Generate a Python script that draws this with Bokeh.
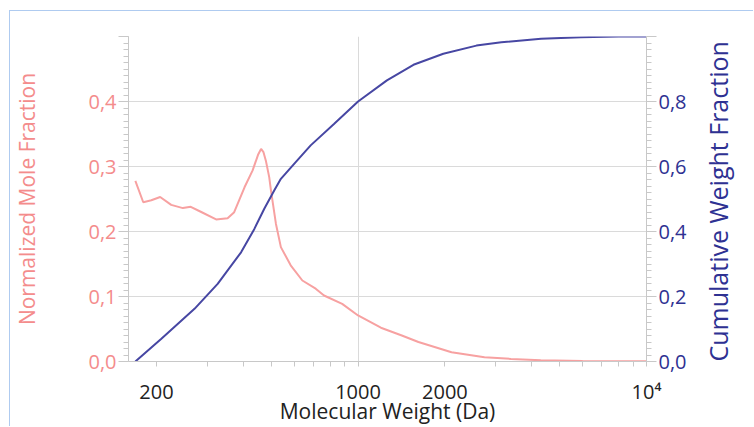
import math
import json
from bokeh.plotting import figure
from bokeh.models import Range1d, LinearAxis, FixedTicker, CustomJSTickFormatter
from bokeh.embed import file_html
from bokeh.resources import INLINE

# Normalized mole fraction (left axis)
mw_mole = [169, 180, 192, 206, 225, 247, 263, 286, 322, 353, 372, 404, 431, 450,
           461, 470, 479, 492, 499, 519, 540, 584, 641, 713, 762, 881, 1000, 1200,
           1418, 1619, 2109, 2743, 3390, 4300, 6000, 8000, 10000]
mole_frac = [0.278, 0.245, 0.248, 0.253, 0.241, 0.236, 0.238, 0.230, 0.2185,
             0.2205, 0.2297, 0.268, 0.294, 0.318, 0.327, 0.322, 0.309, 0.2836,
             0.263, 0.212, 0.176, 0.148, 0.1246, 0.112, 0.1015, 0.0887, 0.0708,
             0.052, 0.040, 0.030, 0.0143, 0.0067, 0.004, 0.002, 0.0008, 0.0003,
             0.0002]

# Cumulative weight fraction (right axis)
mw_cum = [169, 208, 271, 326, 393, 437, 473, 512, 540, 610, 685, 825, 1000, 1259,
          1556, 1975, 2572, 3139, 4310, 5925, 8000, 10000]
cum_frac = [0.0, 0.070, 0.162, 0.239, 0.336, 0.408, 0.470, 0.526, 0.562, 0.615,
            0.665, 0.731, 0.800, 0.865, 0.913, 0.947, 0.972, 0.982, 0.993, 0.998,
            1.0, 1.0]

x_ticks = [200, 300, 400, 500, 600, 700, 800, 900, 1000, 2000, 3000, 4000, 5000,
           6000, 7000, 8000, 9000, 10000]
x_labels = {200: "200", 1000: "1000", 2000: "2000", 10000: "10\u2074"}
left_ticks = [0.0, 0.1, 0.2, 0.3, 0.4, 0.5]
right_ticks = [0.0, 0.2, 0.4, 0.6, 0.8, 1.0]

x_title = "Molecular Weight (Da)"
left_title = "Normalized Mole Fraction"
right_title = "Cumulative Weight Fraction"

PINK_LINE = "#F7A1A1"
PINK_TEXT = "#F48C8C"
NAVY_LINE = "#4747A3"
NAVY_TEXT = "#2E3192"
AX_COL = "#C8C8C8"
GRID_COL = "#DADADA"
FONT = "Open Sans"

p = figure(width=744, height=416, x_axis_type="log",
           x_range=Range1d(160, 10000), y_range=Range1d(0, 0.5),
           output_backend="svg", toolbar_location=None,
           min_border_left=115, min_border_right=108,
           min_border_top=25, min_border_bottom=66)
p.outline_line_color = None
p.background_fill_color = "white"
p.border_fill_color = "white"
p.styles = {"margin-left": "9px", "margin-top": "10px",
            "border-left": "1px solid #AFCBF0", "border-top": "1px solid #AFCBF0"}

p.extra_y_ranges = {"cum": Range1d(0, 1)}

# grids
p.xgrid.ticker = FixedTicker(ticks=[1000])
p.ygrid.ticker = FixedTicker(ticks=[0.1, 0.2, 0.3, 0.4])
p.xgrid.grid_line_color = GRID_COL
p.ygrid.grid_line_color = GRID_COL
p.xgrid.grid_line_width = 1
p.ygrid.grid_line_width = 1

# x axis
xa = p.xaxis[0]
xa.ticker = FixedTicker(ticks=x_ticks, minor_ticks=[])
xa.formatter = CustomJSTickFormatter(
    code="const m = " + json.dumps({str(k): v for k, v in x_labels.items()}) +
         "; const k = String(Math.round(tick)); return (k in m) ? m[k] : '';")
xa.axis_label = x_title
xa.axis_line_color = AX_COL
xa.major_tick_line_color = AX_COL
xa.major_tick_out = 5
xa.major_tick_in = 0
xa.major_label_standoff = 11
xa.major_label_text_font = FONT
xa.major_label_text_font_size = "20px"
xa.major_label_text_color = "#222222"
xa.axis_label_text_font = FONT
xa.axis_label_text_font_size = "21px"
xa.axis_label_text_font_style = "normal"
xa.axis_label_text_color = "#222222"
xa.axis_label_standoff = -11

# left axis
ya = p.yaxis[0]
ya.ticker = FixedTicker(ticks=left_ticks, minor_ticks=[i / 100 for i in range(51)])
ya.formatter = CustomJSTickFormatter(
    code="return tick > 0.45 ? '' : tick.toFixed(1).replace('.', ',');")
ya.axis_label = left_title
ya.axis_line_color = AX_COL
ya.major_tick_line_color = AX_COL
ya.minor_tick_line_color = AX_COL
ya.major_tick_out = 10
ya.major_tick_in = 0
ya.minor_tick_out = 5
ya.minor_tick_in = 0
ya.major_label_standoff = 2
ya.major_label_text_font = FONT
ya.major_label_text_font_size = "20px"
ya.major_label_text_color = PINK_TEXT
ya.axis_label_text_font = FONT
ya.axis_label_text_font_size = "21px"
ya.axis_label_text_font_style = "normal"
ya.axis_label_text_color = PINK_TEXT
ya.axis_label_standoff = 44

# right axis (title reads bottom-to-top, as in the original)
ra = LinearAxis(y_range_name="cum")
ra.ticker = FixedTicker(ticks=right_ticks, minor_ticks=[i / 50 for i in range(51)])
ra.formatter = CustomJSTickFormatter(
    code="return tick > 0.95 ? '' : tick.toFixed(1).replace('.', ',');")
ra.axis_label = right_title
ra.axis_label_orientation = math.pi / 2
try:
    ra.axis_label_align = "start"
except AttributeError:
    pass
ra.axis_line_color = AX_COL
ra.major_tick_line_color = AX_COL
ra.minor_tick_line_color = AX_COL
ra.major_tick_out = 10
ra.major_tick_in = 0
ra.minor_tick_out = 5
ra.minor_tick_in = 0
ra.major_label_standoff = 2
ra.major_label_text_font = FONT
ra.major_label_text_font_size = "20px"
ra.major_label_text_color = NAVY_TEXT
ra.axis_label_text_font = FONT
ra.axis_label_text_font_size = "25px"
ra.axis_label_text_font_style = "normal"
ra.axis_label_text_color = NAVY_TEXT
ra.axis_label_standoff = 28
p.add_layout(ra, "right")

p.line(mw_mole, mole_frac, line_color=PINK_LINE, line_width=2)
p.line(mw_cum, cum_frac, line_color=NAVY_LINE, line_width=2, y_range_name="cum")

open("out.html", "w").write(file_html(p, INLINE))
